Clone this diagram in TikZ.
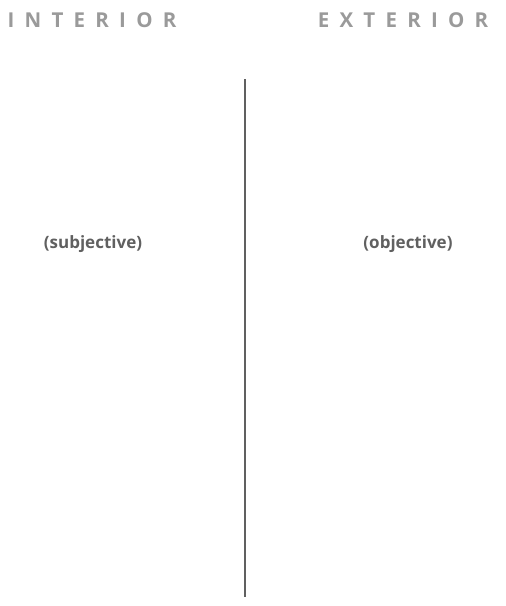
\documentclass[tikz,border=0pt]{standalone}
\usepackage{fontspec}
\setmainfont{Open Sans}
\usepackage{tikz}
\usetikzlibrary{positioning,calc}

\definecolor{headgray}{HTML}{9A9A9A}
\definecolor{textgray}{HTML}{606060}

\tikzset{
  heading/.style={text=headgray, font=\fontsize{20.5}{20.5}\selectfont\bfseries\addfontfeature{LetterSpace=50}, inner sep=0pt},
  quadlabel/.style={text=textgray, font=\fontsize{17}{17}\selectfont\bfseries, inner sep=0pt},
  divider/.style={draw=textgray, line width=2.2pt}
}

\begin{document}
\begin{tikzpicture}[x=1pt,y=-1pt]
      \useasboundingbox (0,0) rectangle (506,606);

      % headings
      \node[heading] (interior) at (92,20) {INTERIOR};
      \node[heading] (exterior) at (403,20) {EXTERIOR};

      % quadrant labels
      \node[quadlabel] (subjective) at (93,244) {(subjective)};
      \node[quadlabel] (objective) at (408,244) {(objective)};

      % divider
      \coordinate (div_top) at (245,79);
      \coordinate (div_bottom) at (245,597);
      \draw[divider] (div_top) -- (div_bottom);

\end{tikzpicture}
\end{document}
